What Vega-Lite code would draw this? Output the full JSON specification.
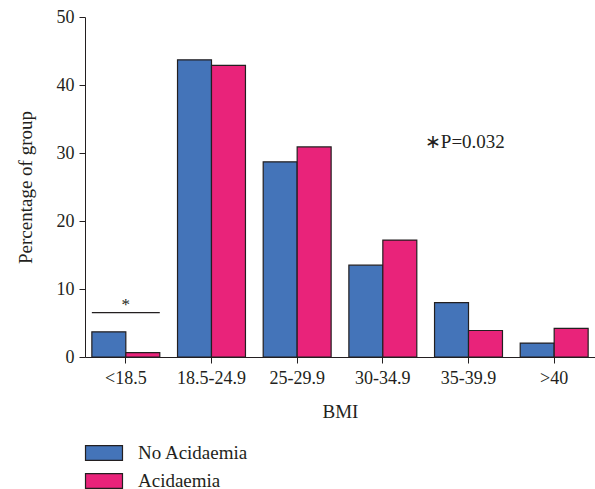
{
  "$schema": "https://vega.github.io/schema/vega-lite/v6.json",
  "autosize": {"type": "none"},
  "padding": {"left": 85, "top": 17, "right": 0, "bottom": 132},
  "width": 510,
  "height": 340,
  "background": "white",
  "config": {
    "view": {"stroke": null},
    "font": "Liberation Serif",
    "axis": {
      "labelFont": "Liberation Serif",
      "titleFont": "Liberation Serif",
      "labelFontSize": 18,
      "titleFontSize": 19,
      "titleFontWeight": "normal",
      "labelColor": "#231f20",
      "titleColor": "#231f20",
      "domainColor": "#231f20",
      "tickColor": "#231f20",
      "tickSize": 6,
      "grid": false
    },
    "legend": {
      "labelFont": "Liberation Serif",
      "labelFontSize": 19,
      "labelColor": "#231f20"
    }
  },
  "datasets": {
    "bars": [
      {"bmi": "<18.5", "group": "No Acidaemia", "value": 3.7},
      {"bmi": "<18.5", "group": "Acidaemia", "value": 0.65},
      {"bmi": "18.5-24.9", "group": "No Acidaemia", "value": 43.7},
      {"bmi": "18.5-24.9", "group": "Acidaemia", "value": 42.9},
      {"bmi": "25-29.9", "group": "No Acidaemia", "value": 28.7},
      {"bmi": "25-29.9", "group": "Acidaemia", "value": 30.9},
      {"bmi": "30-34.9", "group": "No Acidaemia", "value": 13.5},
      {"bmi": "30-34.9", "group": "Acidaemia", "value": 17.2},
      {"bmi": "35-39.9", "group": "No Acidaemia", "value": 8.0},
      {"bmi": "35-39.9", "group": "Acidaemia", "value": 3.9},
      {"bmi": ">40", "group": "No Acidaemia", "value": 2.05},
      {"bmi": ">40", "group": "Acidaemia", "value": 4.2}
    ],
    "sig": [
      {"bmi": "<18.5", "low": 6.42, "high": 6.6, "star": 7.6, "mark": "*"}
    ],
    "note": [
      {"bmi": "30-34.9", "value": 31.6, "label": "∗P=0.032"}
    ]
  },
  "layer": [
    {
      "data": {"name": "bars"},
      "mark": {"type": "bar", "stroke": "#231f20", "strokeWidth": 1.2},
      "encoding": {
        "x": {
          "field": "bmi",
          "type": "nominal",
          "sort": null,
          "scale": {"domain": ["<18.5", "18.5-24.9", "25-29.9", "30-34.9", "35-39.9", ">40"], "paddingInner": 0.207, "paddingOuter": 0.08},
          "axis": {"labelAngle": 0, "title": "BMI", "labelPadding": 6, "titlePadding": 15}
        },
        "xOffset": {
          "field": "group",
          "type": "nominal",
          "sort": ["No Acidaemia", "Acidaemia"],
          "scale": {"paddingInner": 0, "paddingOuter": 0}
        },
        "y": {
          "field": "value",
          "type": "quantitative",
          "scale": {"domain": [0, 50]},
          "axis": {"values": [0, 10, 20, 30, 40, 50], "title": "Percentage of group", "labelPadding": 5, "titlePadding": 21}
        },
        "color": {
          "field": "group",
          "type": "nominal",
          "sort": ["No Acidaemia", "Acidaemia"],
          "scale": {"domain": ["No Acidaemia", "Acidaemia"], "range": ["#4474b9", "#e9237a"]},
          "legend": {
            "title": null,
            "orient": "none",
            "legendX": 0,
            "legendY": 426,
            "symbolType": "M-2,-0.8H2V0.8H-2Z",
            "symbolSize": 342,
            "symbolOffset": 9,
            "symbolStrokeColor": "#231f20",
            "symbolStrokeWidth": 1.2,
            "symbolOpacity": 1,
            "rowPadding": 8,
            "labelOffset": 24
          }
        }
      }
    },
    {
      "data": {"name": "sig"},
      "mark": {"type": "bar", "color": "#231f20"},
      "encoding": {
        "x": {"field": "bmi", "type": "nominal", "sort": null},
        "y": {"field": "low", "type": "quantitative"},
        "y2": {"field": "high"}
      }
    },
    {
      "data": {"name": "sig"},
      "mark": {"type": "text", "fontSize": 17, "fill": "#231f20", "font": "Liberation Serif"},
      "encoding": {
        "x": {"field": "bmi", "type": "nominal", "sort": null},
        "y": {"field": "star", "type": "quantitative"},
        "text": {"field": "mark"}
      }
    },
    {
      "data": {"name": "note"},
      "mark": {"type": "text", "fontSize": 19, "fill": "#231f20", "font": "Liberation Serif", "align": "left", "dx": 42},
      "encoding": {
        "x": {"field": "bmi", "type": "nominal", "sort": null},
        "y": {"field": "value", "type": "quantitative"},
        "text": {"field": "label"}
      }
    }
  ]
}
